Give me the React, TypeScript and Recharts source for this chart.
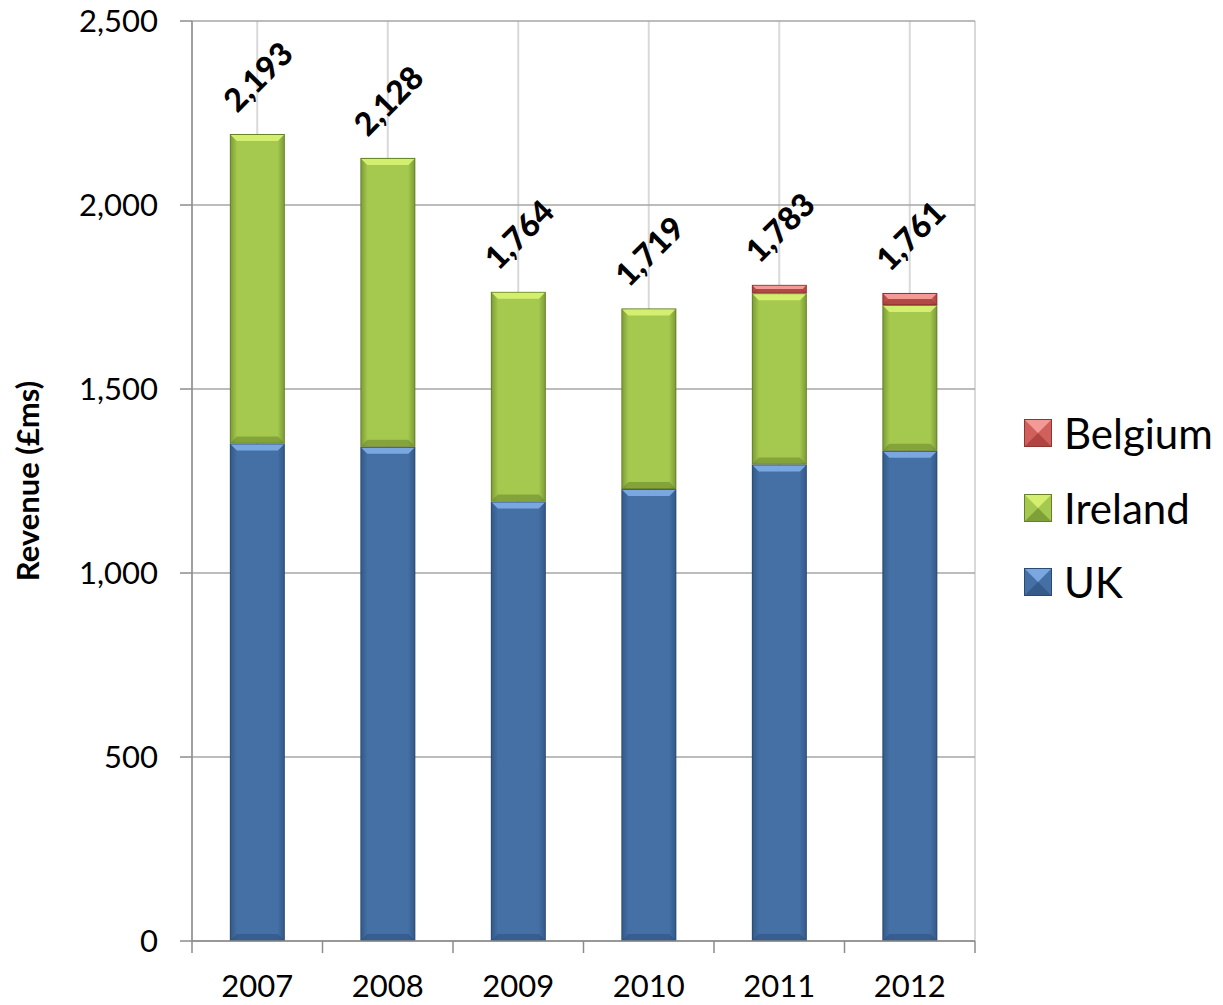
import React from 'react';
import {
  BarChart,
  Bar,
  XAxis,
  YAxis,
  CartesianGrid,
  Legend,
  LabelList,
} from 'recharts';

const years = ['2007', '2008', '2009', '2010', '2011', '2012'];
const uk = [1352, 1343, 1194, 1228, 1295, 1332];
const ireland = [841, 785, 570, 491, 465, 396];
const belgium = [0, 0, 0, 0, 23, 33];
const totals = [2193, 2128, 1764, 1719, 1783, 1761];
const yTicks = [0, 500, 1000, 1500, 2000, 2500];

const data = years.map((year, i) => ({
  year,
  uk: uk[i],
  ireland: ireland[i],
  belgium: belgium[i],
  total: totals[i],
}));

const FONT = 'Lato, "Open Sans", sans-serif';

type Palette = { id: string; top: string; light: string; dark: string; edge: string; bottom: string };

const PAL: Record<string, Palette> = {
  uk: { id: 'gUk', top: '#7aa7e0', light: '#4470a6', dark: '#355b8a', edge: '#2a4a72', bottom: '#2f5280' },
  ireland: { id: 'gIe', top: '#d4ef70', light: '#a4c94e', dark: '#7f9f38', edge: '#66812a', bottom: '#6f8c2e' },
  belgium: { id: 'gBe', top: '#f49a96', light: '#d0605c', dark: '#b04441', edge: '#8e3431', bottom: '#9c3a37' },
};

const BevelBar = (props: any) => {
  const { x, y, width, height, pal } = props;
  if (!height || height <= 0) return null;
  const b = Math.min(7, height / 2, width / 2);
  return (
    <g>
      <rect x={x} y={y} width={width} height={height} fill={pal.edge} />
      <rect x={x + 1} y={y + 1} width={width - 2} height={height - 2} fill={`url(#${pal.id})`} />
      <polygon
        points={`${x + 1},${y + 1} ${x + width - 1},${y + 1} ${x + width - b},${y + b} ${x + b},${y + b}`}
        fill={pal.top}
      />
      <polygon
        points={`${x + 1},${y + height - 1} ${x + width - 1},${y + height - 1} ${x + width - b},${y + height - b} ${x + b},${y + height - b}`}
        fill={pal.bottom}
        opacity={0.6}
      />
    </g>
  );
};

const YearTick = (props: any) => {
  const { x, y, payload, index, visibleTicksCount, width } = props;
  const n = visibleTicksCount || years.length;
  const band = (width || 783) / n;
  return (
    <g>
      <line x1={x - band / 2} x2={x - band / 2} y1={y} y2={y + 12} stroke="#8c8c8c" strokeWidth={1.5} />
      {index === n - 1 && (
        <line x1={x + band / 2} x2={x + band / 2} y1={y} y2={y + 12} stroke="#8c8c8c" strokeWidth={1.5} />
      )}
      <text x={x} y={y + 44} textAnchor="middle" dominantBaseline="central" fontFamily={FONT} fontSize={31} fill="#000">
        {payload.value}
      </text>
    </g>
  );
};

const TotalLabel = (props: any) => {
  const { x, y, width, value } = props;
  const cx = x + width / 2;
  const cy = y - 58;
  return (
    <text
      x={cx}
      y={cy}
      textAnchor="middle"
      dominantBaseline="central"
      transform={`rotate(-45, ${cx}, ${cy})`}
      fontFamily={FONT}
      fontWeight={900}
      fontSize={32}
      fill="#000"
    >
      {Number(value).toLocaleString('en-US')}
    </text>
  );
};

const legendItems = [
  { name: 'Belgium', pal: PAL.belgium },
  { name: 'Ireland', pal: PAL.ireland },
  { name: 'UK', pal: PAL.uk },
];

const LegendContent = () => (
  <div style={{ fontFamily: FONT, fontSize: 42, color: '#000' }}>
    {legendItems.map((it) => (
      <div key={it.name} style={{ display: 'flex', alignItems: 'center', height: 74.5 }}>
        <svg width={28} height={28} style={{ marginRight: 12 }}>
          <rect x={0} y={0} width={28} height={28} fill={it.pal.edge} />
          <rect x={1} y={1} width={26} height={26} fill={it.pal.light} />
          <polygon points="1,1 27,1 14,14" fill={it.pal.top} />
          <polygon points="1,27 27,27 14,14" fill={it.pal.dark} />
        </svg>
        <span>{it.name}</span>
      </div>
    ))}
  </div>
);

const App: React.FC = () => {
  return (
    <div style={{ position: 'absolute', left: 0, top: 0, width: 1223, height: 1005, background: '#fff' }}>
      <BarChart
        width={1223}
        height={1005}
        data={data}
        margin={{ top: 21, right: 248, bottom: 4, left: 0 }}
        barCategoryGap="29%"
      >
        <defs>
          {Object.values(PAL).map((p) => (
            <linearGradient key={p.id} id={p.id} x1="0" y1="0" x2="1" y2="0">
              <stop offset="0%" stopColor={p.dark} />
              <stop offset="12%" stopColor={p.light} />
              <stop offset="88%" stopColor={p.light} />
              <stop offset="100%" stopColor={p.dark} />
            </linearGradient>
          ))}
        </defs>
        <CartesianGrid horizontal={false} vertical stroke="#d9d9d9" strokeWidth={2} />
        <CartesianGrid horizontal vertical={false} stroke="#a6a6a6" strokeWidth={1.5} />
        <XAxis
          dataKey="year"
          height={60}
          interval={0}
          tickLine={false}
          tickSize={0}
          tickMargin={0}
          axisLine={{ stroke: '#8c8c8c', strokeWidth: 1.5 }}
          tick={<YearTick />}
        />
        <YAxis
          width={192}
          domain={[0, 2500]}
          ticks={yTicks}
          interval={0}
          tickSize={12}
          tickMargin={22}
          tickFormatter={(v: number) => v.toLocaleString('en-US')}
          axisLine={{ stroke: '#8c8c8c', strokeWidth: 1.5 }}
          tickLine={{ stroke: '#8c8c8c', strokeWidth: 1.5 }}
          tick={{ fill: '#000', fontFamily: FONT, fontSize: 31 }}
          label={{
            value: 'Revenue (£ms)',
            angle: -90,
            position: 'insideLeft',
            offset: 28,
            style: { textAnchor: 'middle', fontFamily: FONT, fontWeight: 700, fontSize: 31, fill: '#000' },
          }}
        />
        <Legend
          layout="vertical"
          align="center"
          verticalAlign="middle"
          content={<LegendContent />}
          wrapperStyle={{ left: 1024, top: 396, width: 199 }}
        />
        <Bar dataKey="uk" name="UK" stackId="a" isAnimationActive={false} shape={(p: any) => <BevelBar {...p} pal={PAL.uk} />} />
        <Bar dataKey="ireland" name="Ireland" stackId="a" isAnimationActive={false} shape={(p: any) => <BevelBar {...p} pal={PAL.ireland} />} />
        <Bar dataKey="belgium" name="Belgium" stackId="a" isAnimationActive={false} shape={(p: any) => <BevelBar {...p} pal={PAL.belgium} />}>
          <LabelList dataKey="total" content={<TotalLabel />} />
        </Bar>
      </BarChart>
    </div>
  );
};

export default App;
